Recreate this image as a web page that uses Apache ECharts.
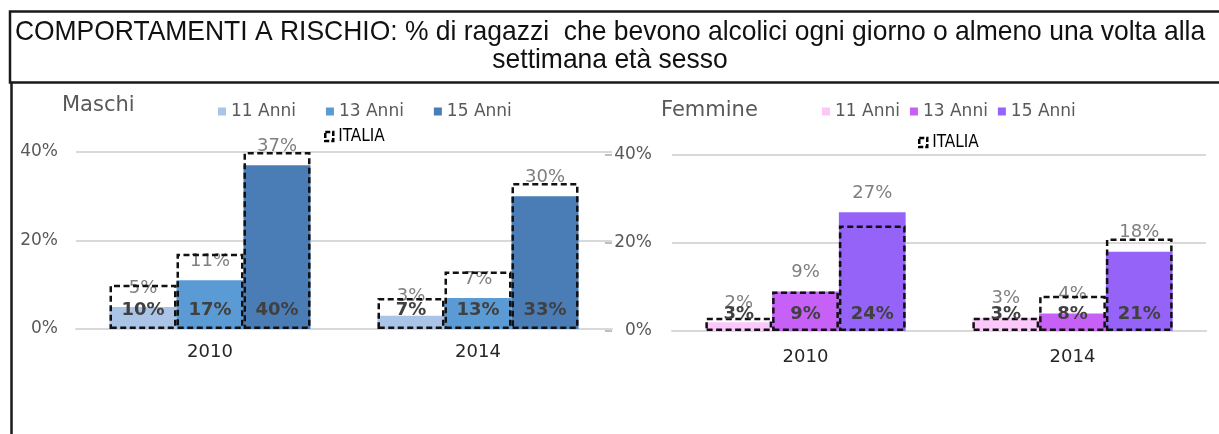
<!DOCTYPE html>
<html>
<head>
<meta charset="utf-8">
<script src="https://cdn.jsdelivr.net/npm/echarts@6/dist/echarts.min.js"></script>
<style>
  html, body { margin: 0; padding: 0; background: #fff; }
  #chart { width: 1219px; height: 434px; }
</style>
</head>
<body>
<div id="chart"></div>
<script>
// categories and tick labels
const years = ["2010", "2014"]
const ageGroups = ["11 Anni", "13 Anni", "15 Anni"]
const yTicks = [0, 20, 40]
const titleLines = [
  "COMPORTAMENTI A RISCHIO: % di ragazzi  che bevono alcolici ogni giorno o almeno una volta alla",
  "settimana età sesso",
]

// Maschi (regione) and ITALIA reference, in %
const maschi11 = [5, 3]
const maschi13 = [11, 7]
const maschi15 = [37, 30]
const italiaM11 = [10, 7]
const italiaM13 = [17, 13]
const italiaM15 = [40, 33]

// Femmine (regione) and ITALIA reference, in %
const femmine11 = [2, 3]
const femmine13 = [9, 4]
const femmine15 = [27, 18]
const italiaF11 = [3, 3]
const italiaF13 = [9, 8]
const italiaF15 = [24, 21]

const blues = ["#a9c4e6", "#5b9bd5", "#4a7db6"]
const purples = ["#fcc8fb", "#c660f6", "#9563f8"]
const FONT = "DejaVu Sans"
const GRID_LINE = "#d9d9d9"

const yMin = yTicks[0]
const yMax = yTicks[yTicks.length - 1]
const yStep = yTicks[1] - yTicks[0]

function filledSeries(name, data, color, xi, yi) {
  return {
    name: name,
    type: "bar",
    xAxisIndex: xi,
    yAxisIndex: yi,
    data: data,
    barGap: "0%",
    barCategoryGap: "25%",
    itemStyle: { color: color },
    label: {
      show: true,
      position: "top",
      distance: 10,
      formatter: "{c}%",
      color: "#7f7f7f",
      fontSize: 18,
      fontFamily: FONT,
    },
    z: 2,
  }
}

function italiaSeries(data, xi, yi, dist) {
  return {
    name: "ITALIA",
    type: "bar",
    xAxisIndex: xi,
    yAxisIndex: yi,
    data: data,
    barGap: "0%",
    barCategoryGap: "25%",
    itemStyle: {
      color: "rgba(0,0,0,0)",
      borderColor: "#111",
      borderWidth: 2.5,
      borderType: [6, 3.5],
    },
    label: {
      show: true,
      position: "insideBottom",
      distance: dist,
      formatter: "{c}%",
      color: "#404040",
      fontWeight: "bold",
      fontSize: 18,
      fontFamily: FONT,
    },
    z: 3,
  }
}

function catAxis(gi, margin, visible) {
  return {
    type: "category",
    gridIndex: gi,
    data: years,
    show: visible,
    axisLine: { lineStyle: { color: GRID_LINE, width: 2 } },
    axisTick: { show: false },
    axisLabel: { color: "#262626", fontSize: 18, fontFamily: FONT, margin: margin },
  }
}

function valAxis(gi, margin) {
  return {
    type: "value",
    gridIndex: gi,
    min: yMin,
    max: yMax,
    interval: yStep,
    axisLine: { show: false },
    axisTick: { show: false },
    axisLabel: { formatter: "{value}%", color: "#595959", fontSize: 17, fontFamily: FONT, margin: margin },
    splitLine: { lineStyle: { color: GRID_LINE, width: 2 } },
  }
}

function legendBlock(left, top, colors, gap) {
  return {
    left: left,
    top: top,
    icon: "rect",
    itemWidth: 8,
    itemHeight: 8,
    itemGap: gap,
    selectedMode: false,
    textStyle: { color: "#595959", fontSize: 17, fontFamily: FONT },
    data: ageGroups.map((g, i) => ({ name: g, itemStyle: { color: colors[i] } })),
  }
}

function italiaLegend(left, top) {
  return {
    left: left,
    top: top,
    icon: "rect",
    itemWidth: 8,
    itemHeight: 9,
    selectedMode: false,
    textStyle: { color: "#000", fontSize: 17, fontFamily: "DejaVu Sans Condensed, Liberation Sans Narrow, Liberation Sans" },
    data: [{
      name: "ITALIA",
      itemStyle: { color: "rgba(0,0,0,0)", borderColor: "#000", borderWidth: 2.5, borderType: [5, 2] },
    }],
  }
}

function titleText(text, y) {
  return {
    type: "text",
    x: 610,
    y: y,
    scaleX: 0.945,
    silent: true,
    style: { text: text, align: "center", verticalAlign: "middle", font: "28px 'Liberation Sans'", fill: "#111" },
  }
}

const chart = echarts.init(document.getElementById("chart"), null, { renderer: "canvas" })

chart.setOption({
  animation: false,
  backgroundColor: "#fff",
  title: [
    { text: "Maschi", left: 57, top: 90, textStyle: { fontFamily: FONT, fontSize: 21, fontWeight: "normal", color: "#595959" } },
    { text: "Femmine", left: 656, top: 95, textStyle: { fontFamily: FONT, fontSize: 21, fontWeight: "normal", color: "#595959" } },
  ],
  legend: [
    legendBlock(213, 98, blues, 30),
    italiaLegend(319, 123),
    legendBlock(817, 98, purples, 10),
    italiaLegend(913, 129),
  ],
  grid: [
    { left: 76, top: 152, width: 536, height: 177 },
    { left: 672, top: 155, width: 534, height: 176 },
  ],
  xAxis: [
    catAxis(0, 14, true),
    catAxis(0, 14, false),
    catAxis(1, 17, true),
    catAxis(1, 17, false),
  ],
  yAxis: [
    valAxis(0, 18),
    valAxis(1, 20),
    {
      // small tick marks left of the Femmine value labels
      type: "value",
      gridIndex: 1,
      min: yMin,
      max: yMax,
      interval: yStep,
      position: "left",
      offset: 60,
      axisLine: { show: false },
      axisTick: { show: true, length: 7, lineStyle: { color: "#bfbfbf", width: 2 } },
      axisLabel: { show: false },
      splitLine: { show: false },
    },
  ],
  series: [
    filledSeries(ageGroups[0], maschi11, blues[0], 0, 0),
    filledSeries(ageGroups[1], maschi13, blues[1], 0, 0),
    filledSeries(ageGroups[2], maschi15, blues[2], 0, 0),
    italiaSeries(italiaM11, 1, 0, 10),
    italiaSeries(italiaM13, 1, 0, 10),
    italiaSeries(italiaM15, 1, 0, 10),
    filledSeries(ageGroups[0], femmine11, purples[0], 2, 1),
    filledSeries(ageGroups[1], femmine13, purples[1], 2, 1),
    filledSeries(ageGroups[2], femmine15, purples[2], 2, 1),
    italiaSeries(italiaF11, 3, 1, 8),
    italiaSeries(italiaF13, 3, 1, 8),
    italiaSeries(italiaF15, 3, 1, 8),
  ],
  graphic: [
    // title box and left frame line
    { type: "rect", shape: { x: 10, y: 11.5, width: 1220, height: 71 }, style: { fill: "none", stroke: "#1a1a1a", lineWidth: 2.5 }, silent: true },
    { type: "line", shape: { x1: 11.5, y1: 82, x2: 11.5, y2: 434 }, style: { stroke: "#1a1a1a", lineWidth: 2.5 }, silent: true },
    titleText(titleLines[0], 32),
    titleText(titleLines[1], 60),
  ],
})
</script>
</body>
</html>
